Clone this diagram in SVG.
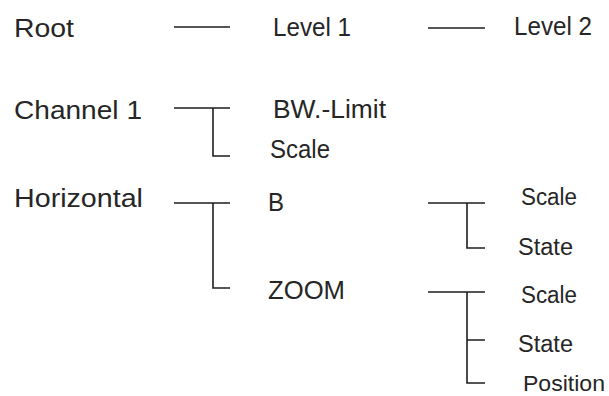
<svg xmlns="http://www.w3.org/2000/svg" width="609" height="396" viewBox="0 0 609 396">
<style>
text{font-family:"Liberation Sans",Arial,sans-serif;fill:#262626}
.l0{font-size:26px}
.l1{font-size:25px}
.l2{font-size:23px}
.c{fill:none;stroke:#1e1e1e;stroke-width:1.6}
</style>
<rect width="609" height="396" fill="#fff"/>
<g id="connectors">
<path class="c" d="M174 27H230"/>
<path class="c" d="M428 28H485"/>
<path class="c" d="M174 108H230M213 108V156H230"/>
<path class="c" d="M174 203H230M213 203V288H230"/>
<path class="c" d="M428 203H485M467 203V248H485"/>
<path class="c" d="M428 292H485M467 292V383H485M467 340H485"/>
</g>
<g id="root"><text class="l0" x="14" y="36.5" textLength="60" lengthAdjust="spacingAndGlyphs">Root</text></g>
<g id="level1"><text class="l1" x="273" y="36" textLength="78" lengthAdjust="spacingAndGlyphs">Level 1</text></g>
<g id="level2"><text class="l1" x="514" y="35" textLength="78" lengthAdjust="spacingAndGlyphs">Level 2</text></g>
<g id="channel1"><text class="l0" x="14" y="119" textLength="128" lengthAdjust="spacingAndGlyphs">Channel 1</text></g>
<g id="bwlimit"><text class="l1" x="273" y="118" textLength="113" lengthAdjust="spacingAndGlyphs">BW.-Limit</text></g>
<g id="ch1-scale"><text class="l1" x="270" y="158" textLength="60" lengthAdjust="spacingAndGlyphs">Scale</text></g>
<g id="horizontal"><text class="l0" x="14" y="207" textLength="129" lengthAdjust="spacingAndGlyphs">Horizontal</text></g>
<g id="b"><text class="l1" x="268" y="211" textLength="16" lengthAdjust="spacingAndGlyphs">B</text></g>
<g id="zoom"><text class="l1" x="268" y="299" textLength="77" lengthAdjust="spacingAndGlyphs">ZOOM</text></g>
<g id="b-scale"><text class="l2" x="521" y="205" textLength="56" lengthAdjust="spacingAndGlyphs">Scale</text></g>
<g id="b-state"><text class="l2" x="518" y="255" textLength="55" lengthAdjust="spacingAndGlyphs">State</text></g>
<g id="zoom-scale"><text class="l2" x="521" y="303" textLength="56" lengthAdjust="spacingAndGlyphs">Scale</text></g>
<g id="zoom-state"><text class="l2" x="518" y="352" textLength="55" lengthAdjust="spacingAndGlyphs">State</text></g>
<g id="zoom-position"><text class="l2" x="523" y="391" style="font-size:22px" textLength="82" lengthAdjust="spacingAndGlyphs">Position</text></g>
</svg>
